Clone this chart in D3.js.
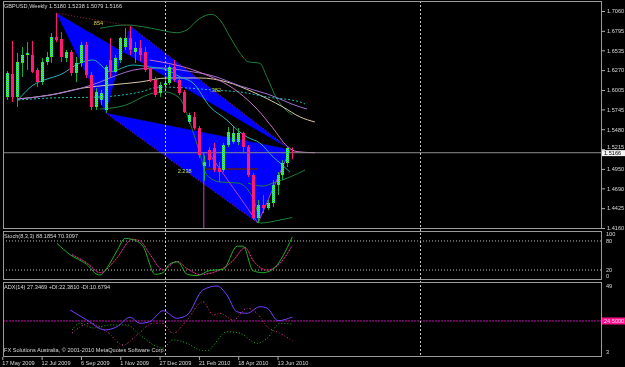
<!DOCTYPE html>
<html><head><meta charset="utf-8">
<script src="https://cdn.jsdelivr.net/npm/d3@7"></script>
<style>html,body{margin:0;padding:0;background:#000;overflow:hidden}svg{display:block}</style>
</head><body>
<svg id="chart" width="625" height="367"></svg>
<script>
// ---------------- DATA ----------------
const symbolTitle = "GBPUSD,Weekly  1.5180 1.5238 1.5079 1.5166";
const dateLabels = ["17 May 2009","12 Jul 2009","6 Sep 2009","1 Nov 2009","27 Dec 2009","21 Feb 2010","18 Apr 2010","13 Jun 2010"];
const dateIndex = [0,8,16,24,32,40,48,56];
const priceTicks = ["1.7060","1.6795","1.6535","1.6270","1.6005","1.5745","1.5480","1.5215","1.4950","1.4690","1.4425","1.4160"];
const openP  = [1.5911,1.5911,1.6218,1.5911,1.6365,1.6472,1.6472,1.6272,1.6111,1.6378,1.6445,1.6713,1.6686,1.6432,1.6512,1.6231,1.6365,1.6606,1.6205,1.5777,1.5871,1.5737,1.6405,1.6245,1.6405,1.6579,1.6699,1.6512,1.6566,1.6512,1.6285,1.6138,1.5964,1.6071,1.6098,1.6312,1.6138,1.5977,1.5577,1.5643,1.5496,1.4990,1.5202,1.5229,1.4962,1.4935,1.5269,1.5310,1.5310,1.5430,1.5243,1.4868,1.4293,1.4467,1.4427,1.4494,1.4735,1.4868,1.5029,1.5180];
const highP  = [1.5937,1.6258,1.6660,1.6499,1.6579,1.6646,1.6660,1.6300,1.6432,1.6512,1.6766,1.7033,1.6779,1.6539,1.6539,1.6445,1.6646,1.6646,1.6245,1.6031,1.6004,1.6338,1.6699,1.6472,1.6713,1.6833,1.6860,1.6646,1.6672,1.6579,1.6299,1.6178,1.6111,1.6190,1.6338,1.6405,1.6165,1.6004,1.5700,1.5710,1.5523,1.5130,1.5243,1.5296,1.5042,1.5296,1.5510,1.5510,1.5497,1.5443,1.5269,1.4895,1.4534,1.4601,1.4534,1.4801,1.4908,1.5069,1.5243,1.5238];
const lowP   = [1.5871,1.5871,1.5844,1.5777,1.6178,1.6272,1.6231,1.6044,1.6071,1.6338,1.6365,1.6646,1.6378,1.6378,1.6192,1.6111,1.6312,1.6165,1.5737,1.5737,1.5804,1.5697,1.6178,1.6232,1.6365,1.6539,1.6472,1.6365,1.6392,1.6245,1.6111,1.5911,1.5911,1.5990,1.6071,1.6111,1.5937,1.5697,1.5550,1.5470,1.5096,1.4790,1.4975,1.4908,1.4775,1.4908,1.5243,1.5283,1.5269,1.5156,1.4842,1.4267,1.4226,1.4360,1.4400,1.4441,1.4601,1.4801,1.4975,1.5079];
const closeP = [1.5884,1.6231,1.5911,1.6378,1.6472,1.6500,1.6245,1.6111,1.6378,1.6445,1.6713,1.6672,1.6445,1.6512,1.6231,1.6365,1.6606,1.6205,1.5777,1.5977,1.5964,1.6312,1.6245,1.6432,1.6699,1.6699,1.6539,1.6566,1.6472,1.6272,1.6138,1.5937,1.6071,1.6098,1.6312,1.6138,1.5964,1.5710,1.5670,1.5496,1.5136,1.5040,1.5069,1.4935,1.4908,1.5269,1.5443,1.5430,1.5430,1.5243,1.4868,1.4293,1.4467,1.4427,1.4494,1.4735,1.4868,1.5029,1.5229,1.5166];
const currentPrice = 1.5166;

// harmonic pattern pivots [barIndex, price]
const pivotX = [11, 1.7033], pivotA = [21, 1.5697], pivotB = [26, 1.6860], pivotC = [52, 1.4226], pivotD = [58.6, 1.5210];
const ratioLabels = [".854", ".382", "2.238"];

// overlay lines [barIndex, price]
const upperBand = [[19.9,1.6829],[25.3,1.6873],[28.6,1.6850],[32.1,1.6806],[35.5,1.6770],[37.5,1.6806],[40.2,1.6962],[42.6,1.7016],[44.3,1.6940],[46.3,1.6717],[48.4,1.6494],[50,1.6383],[52.4,1.6361],[53.8,1.6183],[55.8,1.5894],[57.9,1.5724],[59,1.5670]];
const lowerBand = [[19.9,1.5750],[25,1.5800],[30,1.5950],[33,1.5980],[36,1.5900],[38,1.5600],[40,1.5200],[41.6,1.4868],[44.3,1.4775],[47.9,1.4761],[50,1.4668],[51.8,1.4400],[52.4,1.4226],[56.5,1.4267],[59,1.4300]];
const tealLine  = [[3.2,1.5871],[6.3,1.6071],[9.1,1.6151],[11.7,1.6205],[15.8,1.6365],[18.5,1.6405],[21.9,1.6250],[26.6,1.6338],[30,1.6312],[33.5,1.6272],[36.2,1.6178],[38.8,1.6098],[42.3,1.5777],[45.7,1.5603],[47.8,1.5470],[49.8,1.5376],[52.4,1.5296],[55.1,1.5109],[56.5,1.5029],[58.5,1.4908]];
const greenMid  = [[50,1.4760],[53,1.4720],[55.1,1.4761],[58.5,1.4840],[61.6,1.4935]];
const cyanDotted = [[3.2,1.5871],[9.7,1.5897],[19.9,1.5911],[28,1.5977],[32.1,1.6044],[37.6,1.6031],[42.9,1.6004],[48.4,1.5977],[53.9,1.5911],[60.6,1.5844],[61.6,1.5817]];
const wheatLine = [[3.2,1.5884],[9.7,1.5937],[16.4,1.6031],[21.9,1.6071],[28,1.6111],[33.5,1.6165],[40.2,1.6165],[45.7,1.6111],[51,1.5977],[57.1,1.5777],[60.6,1.5643],[63.6,1.5577]];
const violetLine = [[3.2,1.5884],[12,1.5964],[19.9,1.6111],[21.9,1.6165],[28,1.6285],[32.1,1.6299],[37.6,1.6258],[42.9,1.6192],[48.4,1.6058],[53.9,1.5951],[60.6,1.5777],[62,1.5750]];
const pinkLine  = [[30,1.6405],[40,1.6245],[48,1.5977],[52,1.5737],[55,1.5500],[58,1.5250],[60,1.5180],[63.6,1.5166]];

// stochastic (8,3,3)
const stochTitle = "Stoch(8,3,3) 88.1854 70.3097";
const stochMain = [[11.1,75.3],[13.8,51.6],[17.2,31.4],[19.3,11.1],[19.9,9.9],[21.3,24.7],[23.3,59.1],[25,85.5],[26.4,83.4],[28.6,69.3],[31.1,11.1],[32.7,14.5],[34.1,32.8],[35.7,36.8],[37.6,11.1],[39.6,8.4],[42.3,19.2],[44.9,21.2],[47.8,69.3],[49,69.3],[51,18.6],[53,14.5],[55,21.2],[59,88.2]];
const stochSignal = [[14.2,51.6],[17.2,34.6],[19.9,14.5],[23.3,44.6],[26.4,83.4],[28,80.2],[30,53.1],[32.7,20.3],[35.5,37.9],[37.6,22.9],[40.2,10.8],[44.3,20.3],[47,40.0],[49.4,66.4],[51,40.0],[53.9,19.9],[56.1,30.0],[59,70.3]];

// ADX(14)
const adxTitle = "ADX(14) 27.3469 +DI:22.3810 -DI:10.6794";
const adxMain = [[13.8,32.2],[17.2,25.2],[20.9,18.2],[23.3,20.5],[26,27.1],[28,22.9],[30,24.0],[32.7,31.7],[35.5,26.4],[37.6,28.7],[40.8,46.2],[43.7,49.0],[45.7,42.7],[47.7,31.0],[49.8,29.9],[52.4,34.5],[53.9,33.4],[56.1,24.7],[59,27.3]];
const plusDI = [[14.2,18.2],[15.8,22.9],[18.5,19.6],[21.9,21.7],[25.4,21.7],[28,14.7],[31.5,6.5],[32.7,5.4],[34.7,11.2],[37.6,8.9],[40.2,4.2],[41.6,3.7],[45.7,17.0],[48.4,15.9],[51.8,8.9],[53.9,12.4],[56.5,22.9],[59,22.4]];
const minusDI = [[14.2,16.1],[17.8,22.9],[21.3,17.0],[24.6,7.7],[27.4,14.7],[30.7,22.9],[32.7,22.9],[34.7,15.9],[37.6,25.2],[40.8,38.0],[42.9,28.7],[44.3,29.9],[47,25.2],[49.8,33.4],[51.8,29.9],[53.9,20.5],[56.5,15.9],[59,10.7]];
const adxLevel = 24.5;
const adxLevelLabel = "24.5000";
const copyright = "FX Solutions Australia, \u00a9 2001-2010 MetaQuotes Software Corp.";
const separatorIndex = [33, 85];

// ---------------- LAYOUT ----------------
const L = 3, R = 602;
const mainTop = 1, mainBot = 229, stTop = 231, stBot = 280, adTop = 282, adBot = 357;
const FONT = "'Liberation Sans', Arial, sans-serif";
const TXT = "#d8d8d8";
const FS = 5.6;

const svg = d3.select("#chart");
svg.append("rect").attr("width",625).attr("height",367).attr("fill","#000");

const x = d3.scaleLinear().domain([0,59]).range([2.3,292.3]);
const yM = d3.scaleLinear().domain([1.4160,1.7060]).range([228,11]);
const yS = d3.scaleLinear().domain([0,100]).range([279.7,231.3]);
const yA = d3.scaleLinear().domain([3,49]).range([351.7,286]);

const defs = svg.append("defs");
[["clipM",mainTop,mainBot],["clipS",stTop,stBot],["clipA",adTop,adBot]].forEach(([id,t,b])=>{
  defs.append("clipPath").attr("id",id).append("rect").attr("x",L).attr("y",t).attr("width",R-L).attr("height",b-t);
});
const bullPat = defs.append("pattern").attr("id","bull").attr("width",2).attr("height",2).attr("patternUnits","userSpaceOnUse");
bullPat.append("rect").attr("width",2).attr("height",2).attr("fill","#1fc8a0");
bullPat.append("rect").attr("width",1).attr("height",1).attr("fill","#44ff22");
bullPat.append("rect").attr("x",1).attr("y",1).attr("width",1).attr("height",1).attr("fill","#44ff22");

// ---------------- MAIN PANEL ----------------
const gM = svg.append("g").attr("clip-path","url(#clipM)");

// harmonic triangles, overlapping fills cancel (XOR-like)
const tri = gM.append("g").style("isolation","isolate");
const P = p => [x(p[0]), yM(p[1])];
[[pivotX,pivotA,pivotD],[pivotA,pivotB,pivotD],[pivotA,pivotC,pivotD]].forEach(t=>{
  tri.append("path").attr("d", d3.line()(t.map(P)) + "Z")
    .attr("fill","#0000ff").style("mix-blend-mode","difference");
});

const lineM = d3.line().x(d=>x(d[0])).y(d=>yM(d[1])).curve(d3.curveMonotoneX);
function drawLine(g, data, color, dash, w, gen){
  g.append("path").attr("d",(gen||lineM)(data)).attr("fill","none").attr("stroke",color)
   .attr("stroke-width",w||1).attr("stroke-dasharray",dash||null);
}
drawLine(gM, upperBand, "#1e7f3c");
drawLine(gM, lowerBand, "#1e7f3c");
drawLine(gM, greenMid, "#1e7f3c");
drawLine(gM, wheatLine, "#d8c8a8");
drawLine(gM, violetLine, "#a070d0");
drawLine(gM, pinkLine, "#d070c0");
drawLine(gM, cyanDotted, "#20c0c0", "2,2");
drawLine(gM, tealLine, "#20b0b8");

// pattern dotted lines
const dl = d3.line().x(d=>x(d[0])).y(d=>yM(d[1]));
[[pivotX,pivotB],[pivotB,pivotD],[pivotA,pivotC]].forEach(s=>{
  gM.append("path").attr("d",dl(s)).attr("fill","none").attr("stroke","#9a2040").attr("stroke-dasharray","1,2");
});
// zigzag style marks
gM.append("path").attr("d",dl([[41,1.5162],[41,1.4140]])).attr("stroke","#c040c0").attr("fill","none");
gM.append("path").attr("d",dl([[41,1.4950],[52,1.4950]])).attr("stroke","#5a1e10").attr("stroke-width",1.5).attr("fill","none");
gM.append("path").attr("d",dl([[42,1.5162],pivotC,pivotD])).attr("stroke","#b040d0").attr("fill","none");

// ratio labels
const mid = (a,b)=>[(a[0]+b[0])/2,(a[1]+b[1])/2];
[[mid(pivotX,pivotB),ratioLabels[0],"#d8d840",-1,5.5],[mid(pivotB,pivotD),ratioLabels[1],"#c8d840",0,4],[mid(pivotA,pivotC),ratioLabels[2],"#a8e060",-4,5]].forEach(([p,t,c,dx,dy])=>{
  gM.append("text").attr("x",x(p[0])+dx).attr("y",yM(p[1])+dy).text(t).attr("fill",c)
    .attr("font-family",FONT).attr("font-size",FS);
});

// current price line
gM.append("line").attr("x1",L).attr("x2",R).attr("y1",yM(currentPrice)).attr("y2",yM(currentPrice)).attr("stroke","#8c8c8c");

// candles
const bars = d3.range(openP.length);
const cg = gM.append("g");
bars.forEach(i=>{
  const bull = closeP[i] >= openP[i];
  const cx = Math.round(x(i));
  cg.append("line").attr("x1",cx+0.5).attr("x2",cx+0.5).attr("y1",yM(highP[i])).attr("y2",yM(lowP[i]))
    .attr("stroke", bull ? "#10b040" : "#ff1a78");
  const top = yM(Math.max(openP[i],closeP[i])), bot = yM(Math.min(openP[i],closeP[i]));
  cg.append("rect").attr("x",cx-1).attr("y",top).attr("width",3).attr("height",Math.max(1,bot-top))
    .attr("fill", bull ? "url(#bull)" : "#ff1a78");
});

// ---------------- STOCH PANEL ----------------
const gS = svg.append("g").attr("clip-path","url(#clipS)");
[80,20].forEach(v=>gS.append("line").attr("x1",L).attr("x2",R).attr("y1",yS(v)).attr("y2",yS(v))
  .attr("stroke","#b8b8b8").attr("stroke-dasharray","1,2"));
const lineS = d3.line().x(d=>x(d[0])).y(d=>yS(d[1])).curve(d3.curveMonotoneX);
drawLine(gS, stochSignal, "#7a2020", null, 1, lineS);
drawLine(gS, stochSignal, "#ff30ff", "1,2", 1, lineS);
drawLine(gS, stochMain, "#20b020", null, 1, lineS);

// ---------------- ADX PANEL ----------------
const gA = svg.append("g").attr("clip-path","url(#clipA)");
gA.append("line").attr("x1",L).attr("x2",R).attr("y1",yA(adxLevel)).attr("y2",yA(adxLevel))
  .attr("stroke","#c010b0").attr("stroke-dasharray","2,1");
const lineA = d3.line().x(d=>x(d[0])).y(d=>yA(d[1])).curve(d3.curveMonotoneX);
drawLine(gA, plusDI, "#20b020", "1,2", 1, lineA);
drawLine(gA, minusDI, "#9a2a2a", "1,2", 1, lineA);
drawLine(gA, minusDI, "#d030c0", "1,5", 1, lineA);
drawLine(gA, adxMain, "#7a40ff", null, 1, lineA);

// ---------------- SEPARATORS ----------------
separatorIndex.forEach(i=>{
  svg.append("line").attr("x1",Math.round(x(i))+0.5).attr("x2",Math.round(x(i))+0.5).attr("y1",mainTop).attr("y2",adBot)
    .attr("stroke","#c8c8c8").attr("stroke-dasharray","2,2");
});

// ---------------- FRAMES ----------------
[[mainTop,mainBot],[stTop,stBot],[adTop,adBot]].forEach(([t,b])=>{
  svg.append("rect").attr("x",L+0.5).attr("y",t+0.5).attr("width",R-L-1).attr("height",b-t-1)
    .attr("fill","none").attr("stroke","#9a9a9a");
});

// ---------------- AXES ----------------
const txt = (g,xx,yy,t,anchor,fill)=>g.append("text").attr("x",xx).attr("y",yy).text(t)
  .attr("font-family",FONT).attr("font-size",FS).attr("fill",fill||TXT).attr("text-anchor",anchor||"start");

const axM = svg.append("g").attr("transform",`translate(${R},0)`)
  .call(d3.axisRight(yM).tickValues(priceTicks.map(Number)).tickFormat((d,i)=>priceTicks[i]).tickSize(3).tickPadding(2));
axM.select(".domain").remove();
axM.selectAll("line").attr("stroke","#b0b0b0");
axM.selectAll("text").attr("fill",TXT).attr("font-family",FONT).attr("font-size",FS)
  .attr("dy",(d)=> Math.abs(d-1.5215)<1e-6 ? "-0.15em" : "0.32em");

// current price box
const cp = yM(currentPrice);
svg.append("rect").attr("x",R).attr("y",cp-2.6).attr("width",23).attr("height",6).attr("fill","#f4f4f4");
txt(svg, R+2, cp+2.3, currentPrice.toFixed(4), "start", "#000");

// stoch labels
txt(svg, R+4, 236, "100"); txt(svg, R+4, 243, "80"); txt(svg, R+4, 271.5, "20"); txt(svg, R+4, 278, "0");
// adx labels
txt(svg, R+4, 288, "49"); txt(svg, R+4, 354, "3");
const al = yA(adxLevel);
svg.append("rect").attr("x",R).attr("y",al-3.5).attr("width",23).attr("height",7).attr("fill","#ff108c");
txt(svg, R+2, al+2, adxLevelLabel, "start", "#ffd0f0");

// date axis
const axD = svg.append("g").attr("transform",`translate(0,${adBot})`)
  .call(d3.axisBottom(x).tickValues(dateIndex).tickFormat((d,i)=>dateLabels[i]).tickSize(3).tickPadding(1));
axD.select(".domain").remove();
axD.selectAll("line").attr("stroke","#b0b0b0");
axD.selectAll("text").attr("fill",TXT).attr("font-family",FONT).attr("font-size",FS).attr("text-anchor","start").attr("dx",-0.5);

// titles
txt(svg, 4, 8, symbolTitle);
txt(svg, 4, 237.5, stochTitle);
txt(svg, 4, 289, adxTitle);
txt(svg, 4, 352, copyright);
</script>
</body></html>
